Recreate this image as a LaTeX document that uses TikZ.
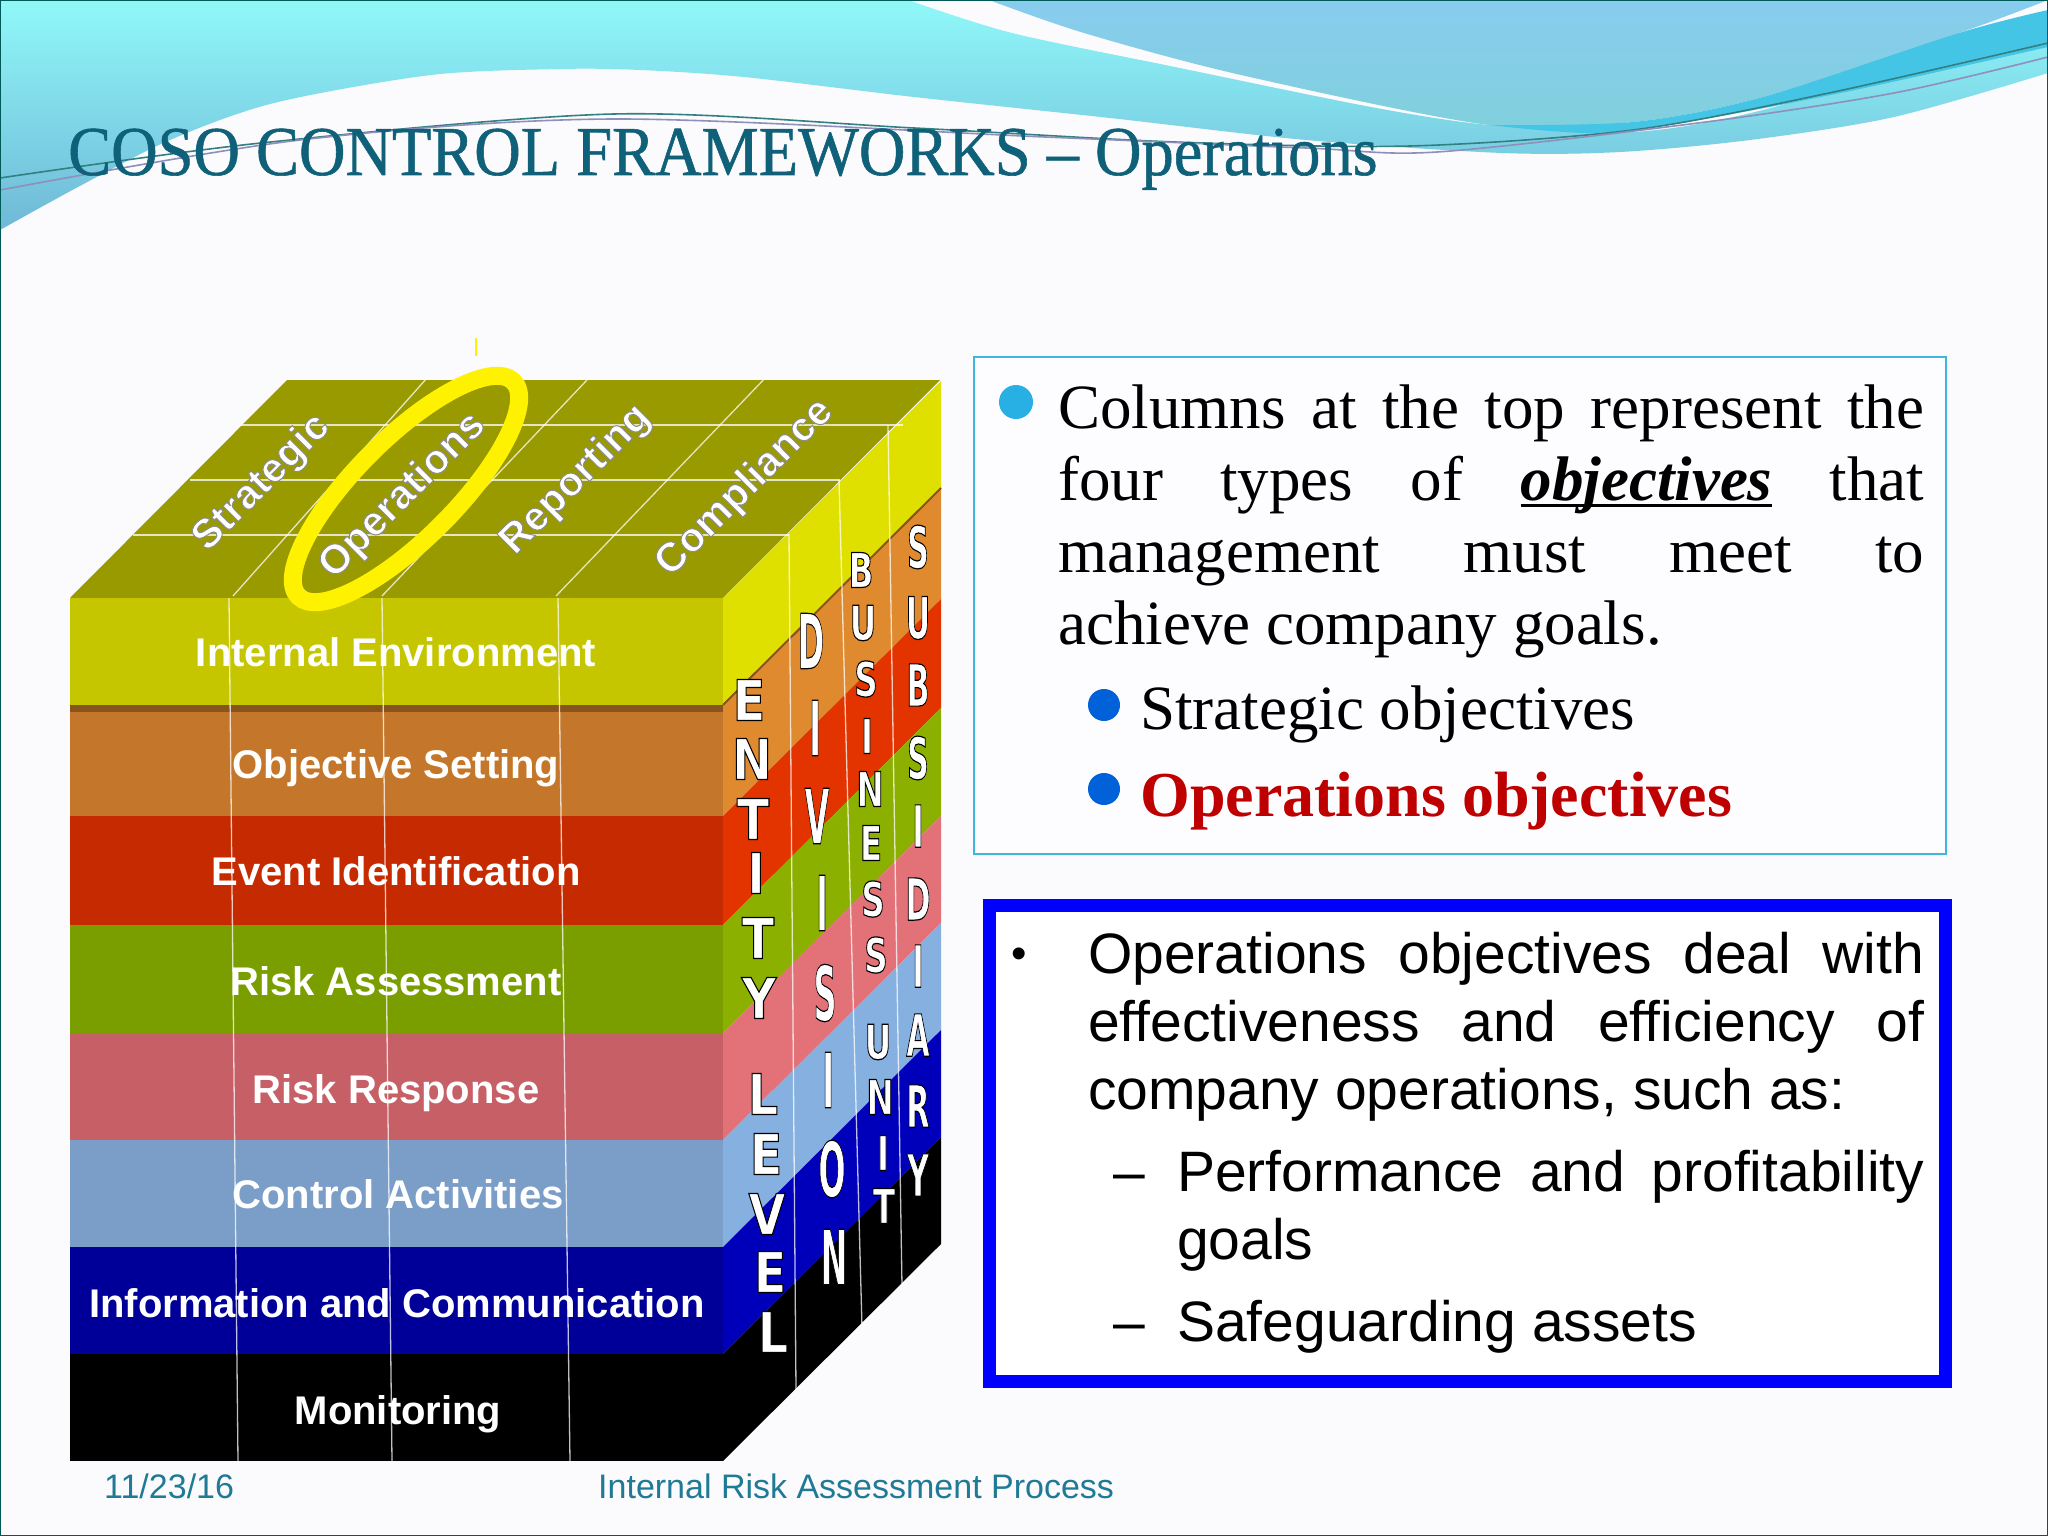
\documentclass[tikz,border=0pt]{standalone}
\usepackage{fontspec}
\setmainfont{Liberation Serif}
\setsansfont{Liberation Sans}
\newfontfamily\heavyfont{DejaVu Sans}
\definecolor{titleteal}{HTML}{0F6079}
\definecolor{foottext}{HTML}{1F7A96}
\definecolor{slidebg}{HTML}{FBFAFC}
\definecolor{boxcyan}{HTML}{3DB7DC}
\definecolor{waveA}{HTML}{90F8F9}\definecolor{waveB}{HTML}{6FB8D6}
\definecolor{seaA}{HTML}{88CCEE}\definecolor{seaB}{HTML}{80D0DC}
\definecolor{stripcyan}{HTML}{45C5E5}
\definecolor{topolive}{HTML}{999900}
\definecolor{frontA}{HTML}{C6C600}\definecolor{sideA}{HTML}{E0E000}
\definecolor{frontB}{HTML}{C4772A}\definecolor{sideB}{HTML}{E08A30}
\definecolor{frontC}{HTML}{C52A00}\definecolor{sideC}{HTML}{E33400}
\definecolor{frontD}{HTML}{7A9E00}\definecolor{sideD}{HTML}{8BB000}
\definecolor{frontE}{HTML}{C65F66}\definecolor{sideE}{HTML}{E27278}
\definecolor{frontF}{HTML}{7A9EC8}\definecolor{sideF}{HTML}{85B0E0}
\definecolor{frontG}{HTML}{000099}\definecolor{sideG}{HTML}{0000BB}
\definecolor{frontH}{HTML}{000000}\definecolor{sideH}{HTML}{000000}
% white text with an outline, drawn once
\newcommand{\outlined}[3]{\special{pdf:code q 2 Tr #2 w #1 RG}#3\special{pdf:code Q}}
\newcommand{\sideltr}[3]{\scalebox{#1}[1]{\fontsize{#2}{#2}\selectfont\outlined{0 0 0}{1.2}{#3}}}
\newcommand{\thickul}[1]{\setbox0\hbox{#1}\rlap{\rule[-7pt]{\wd0}{3pt}}\box0\relax}
\tikzset{
  gridline/.style={draw=white, opacity=.75, line width=1.3pt},
  waveline/.style={line width=1.6pt, smooth},
  frontlabel/.style={text=white, font=\sffamily\bfseries\fontsize{40}{44}\selectfont},
  toplabel/.style={text=white, rotate=45, font=\sffamily\bfseries\fontsize{41}{44}\selectfont},
  sideletter/.style={text=white, inner sep=0pt, font=\heavyfont\bfseries},
  cambria/.style={anchor=base west, inner sep=0pt, align=justify, font=\fontsize{63}{72}\selectfont},
  arialtext/.style={anchor=base west, inner sep=0pt, align=justify, font=\sffamily\fontsize{57}{68}\selectfont},
  footlabel/.style={anchor=base west, inner sep=0pt, text=foottext, font=\sffamily\fontsize{34}{40}\selectfont},
}
\begin{document}
\begin{tikzpicture}[x=1pt, y=-1pt]
\useasboundingbox (0,0) rectangle (2048,1536);
\fill[slidebg] (0,0) rectangle (2048,1536);
% waves at the top of the slide
\shade[top color=waveA, bottom color=waveB] (0,0)--(908,0)
  --plot[smooth] coordinates {(908,0)(1012,33)(1175,67)(1371,107)(1489,125)(1633,132)(1763,110)(1959,50)(2048,20)}
  --(2048,73)
  --plot[smooth] coordinates {(2048,73)(1894,117)(1750,140)(1620,152)(1502,153)(1306,140)(1110,118)(914,97)(744,77)(640,70)(561,69)(431,75)(274,103)(170,140)(78,187)(0,230)}
  --cycle;
\shade[top color=seaA, bottom color=seaB] (989,0)
  --plot[smooth] coordinates {(989,0)(1084,33)(1241,75)(1489,125)(1633,122)(1763,97)(1959,33)(2048,0)}--cycle;
\fill[stripcyan]
  plot[smooth] coordinates {(1489,125)(1633,122)(1763,97)(1959,33)(2048,10)}
  --(2048,47)
  --plot[smooth] coordinates {(2048,47)(1855,90)(1698,120)(1593,133)(1489,125)}--cycle;
\draw[waveline, draw=teal!60!gray] plot coordinates {(0,178)(261,143)(614,114)(914,128)(1175,142)(1410,146)(1633,130)(1829,93)(2048,43)};
\draw[waveline, draw=blue!25!gray!70] plot coordinates {(0,190)(300,140)(614,119)(1045,137)(1306,148)(1437,152)(1698,123)(1894,93)(2048,57)};
\node (title) at (68,175)[anchor=base west, inner sep=0pt, text=titleteal, font=\fontsize{70}{80}\selectfont]{\scalebox{.92}[1]{\outlined{.06 .38 .47}{.6}{COSO CONTROL FRAMEWORKS -- Operations}}};
% the cube
\fill[topolive] (70,598)--(287,380)--(940,380)--(723,598)--cycle;
\foreach \ytop/\ybot/\cname in {598/705/A,705/816/B,816/925/C,925/1033/D,1033/1140/E,1140/1247/F,1247/1354/G,1354/1461/H}{
  \fill[front\cname] (70,\ytop) rectangle (723,\ybot);
  \fill[side\cname] (723,\ytop)--(941,\ytop-217)--(941,\ybot-217)--(723,\ybot)--cycle;
}
\fill[frontB!70!black] (70,705)--(723,705)--(723,712)--(70,712)--cycle;
\draw[frontB!70!black, line width=2pt] (723,705)--(941,488);
% white lines over the cube
\draw[gridline] (133,535)--(789,535);
\draw[gridline] (190,480)--(840,480);
\draw[gridline] (241,425)--(903,425);
\draw[gridline] (233,596)--(427,378);
\draw[gridline] (382,596)--(587,380);
\draw[gridline] (556,596)--(770,373);
\draw[gridline] (229,598)--(238,1461);
\draw[gridline] (382,598)--(392,1461);
\draw[gridline] (558,598)--(570,1461);
\draw[gridline] (789,534)--(796,1390);
\draw[gridline] (839,480)--(862,1327);
\draw[gridline] (888,425)--(902,1286);
% ring round the second column
\draw[yellow, line width=1.2pt] (476,338)--(476,356);
\draw[yellow, line width=18pt, rotate around={45:(406,489)}] (406,489) ellipse (152 and 50);
\node (strategic) at (262,483)[toplabel]{\outlined{.55 .55 .55}{1}{Strategic}};
\node (operations) at (403,496)[toplabel]{\outlined{.55 .55 .55}{1}{Operations}};
\node (reporting) at (576,480)[toplabel]{\outlined{.55 .55 .55}{1}{Reporting}};
\node (compliance) at (745,488)[toplabel]{\outlined{.55 .55 .55}{1}{Compliance}};
\node (internal) at (396,652)[frontlabel]{Internal Environment};
\node (objective) at (396,768)[frontlabel]{Objective Setting};
\node (event) at (396,871)[frontlabel]{Event Identification};
\node (assessment) at (396,981)[frontlabel]{Risk Assessment};
\node (response) at (396,1093)[frontlabel]{Risk Response};
\node (control) at (398,1194)[frontlabel]{Control Activities};
\node (information) at (397,1303)[frontlabel]{Information and Communication};
\node (monitoring) at (398,1414)[frontlabel]{Monitoring};
% letters on the side of the cube
\foreach \ch/\px/\py [count=\i] in {E/749/700,N/752/759,T/753/819,I/756/873,T/758/938,Y/759/998,L/763/1094,E/766/1154,V/767/1214,E/770/1272,L/773/1332}
  \node (ent\i) at (\px,\py)[sideletter]{\sideltr{.85}{56}{\ch}};
\foreach \ch/\px/\py [count=\i] in {D/811/641,I/815/728,V/817/816,I/822/903,S/825/993,I/828/1080,O/832/1169,N/834/1257}
  \node (div\i) at (\px,\py)[sideletter]{\sideltr{.42}{76}{\ch}};
\foreach \ch/\px/\py [count=\i] in {B/861/570,U/863/623,S/866/679,I/867/736,N/870/789,E/871/843,S/873/899,S/876/955,U/878/1042,N/880/1097,I/883/1153,T/884/1206}
  \node (bus\i) at (\px,\py)[sideletter]{\sideltr{.68}{48}{\ch}};
\foreach \ch/\px/\py [count=\i] in {S/918/547,U/918/618,B/918/685,S/918/758,I/918/826,D/918/899,I/918/966,A/918/1035,R/918/1106,Y/918/1175}
  \node (sub\i) at (\px,\py)[sideletter]{\sideltr{.52}{58}{\ch}};
% upper text box
\draw[boxcyan, line width=2pt, fill=white!50!slidebg] (974,357) rectangle (1946,854);
\fill[cyan!85!teal!90] (1016,402) circle (17);
\node (columns) at (1058,428)[cambria, text width=866pt]{Columns at the top represent the\linebreak four types of \thickul{\textbf{\textit{objectives}}} that\linebreak management must meet to\linebreak achieve company goals.};
\fill[blue!55!cyan!85!black] (1104,705) circle (16);
\fill[blue!55!cyan!85!black] (1104,789) circle (16);
\node (strategicobj) at (1140,729)[cambria]{Strategic objectives};
\node (operationsobj) at (1140,816)[cambria, text=red!75!black, font=\bfseries\fontsize{64}{72}\selectfont]{Operations objectives};
% lower text box
\draw[blue, line width=13pt, fill=white] (989,905) rectangle (1945,1381);
\node (dot) at (1011,968)[arialtext, font=\sffamily\fontsize{44}{50}\selectfont]{•};
\node (deal) at (1088,973)[arialtext, text width=836pt]{Operations objectives deal with effectiveness and efficiency of\linebreak company operations, such as:};
\node (dashA) at (1113,1191)[arialtext]{--};
\node (perform) at (1177,1191)[arialtext, text width=747pt]{Performance and profitability\linebreak goals};
\node (dashB) at (1113,1341)[arialtext]{--};
\node (assets) at (1177,1341)[arialtext]{Safeguarding assets};
% footer
\node (date) at (104,1498)[footlabel]{11/23/16};
\node (process) at (598,1498)[footlabel]{Internal Risk Assessment Process};
\draw[teal!70!black, line width=2pt] (0,0) rectangle (2048,1536);
\end{tikzpicture}
\end{document}
